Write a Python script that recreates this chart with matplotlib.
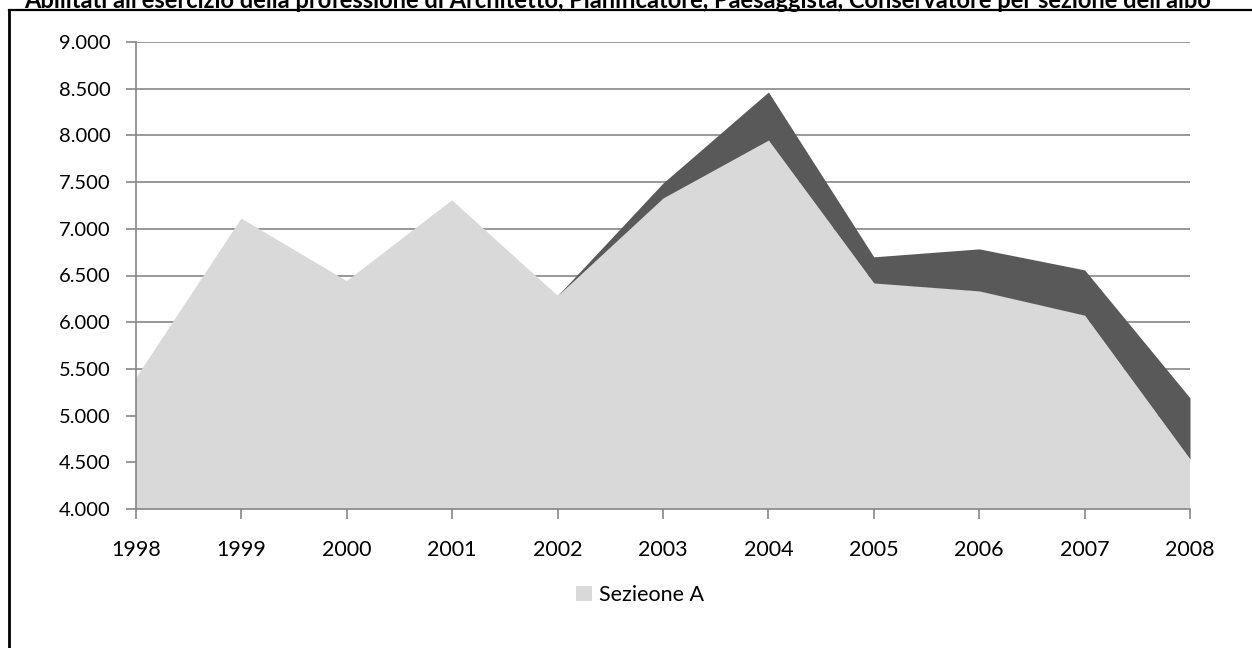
import matplotlib
matplotlib.use("Agg")
import matplotlib.pyplot as plt
from matplotlib.patches import Patch
from matplotlib.ticker import FuncFormatter, MultipleLocator
from matplotlib.lines import Line2D

years = [1998, 1999, 2000, 2001, 2002, 2003, 2004, 2005, 2006, 2007, 2008]
sezione_a = [5400, 7110, 6440, 7305, 6285, 7330, 7950, 6420, 6335, 6075, 4535]
sezione_b = [0, 0, 0, 0, 0, 160, 515, 280, 450, 485, 655]
title = ("Abilitati all'esercizio della professione di Architetto, Pianificatore, "
         "Paesaggista, Conservatore per sezione dell'albo")
legend_label = "Sezieone A"

plt.rcParams['font.family'] = ['Lato', 'DejaVu Sans']

W, H = 1252, 648
fig = plt.figure(figsize=(W / 100, H / 100), dpi=100)
ax = fig.add_axes([136 / W, 1 - 509 / H, (1190 - 136) / W, (509 - 42) / H])

light = '#d9d9d9'
dark = '#595959'
grid = '#868686'

total = [a + b for a, b in zip(sezione_a, sezione_b)]
ax.fill_between(years, 0, sezione_a, color=light, linewidth=0, zorder=2)
ax.fill_between(years, sezione_a, total, color=dark, linewidth=0, zorder=2)

ax.set_xlim(years[0], years[-1])
ax.set_ylim(4000, 9000)
ax.yaxis.set_major_locator(MultipleLocator(500))
ax.set_xticks(years)
ax.set_xticklabels([str(y) for y in years])
ax.yaxis.set_major_formatter(FuncFormatter(lambda v, p: f"{int(v):,}".replace(",", ".")))

ax.grid(axis='y', color=grid, linewidth=1.2, zorder=1)
ax.set_axisbelow(True)
for s in ['top', 'right']:
    ax.spines[s].set_visible(False)
for s in ['left', 'bottom']:
    ax.spines[s].set_color(grid)
    ax.spines[s].set_linewidth(1.2)
    ax.spines[s].set_zorder(3)
ax.tick_params(axis='both', colors=grid, length=7, width=1.2, labelcolor='black')
ax.tick_params(axis='y', pad=11, labelsize=14.5)
ax.tick_params(axis='x', pad=15, labelsize=15.5)

handle = Patch(facecolor=light, edgecolor='none')
fig.legend([handle], [legend_label], loc='center', bbox_to_anchor=(640 / W, 1 - 595 / H),
           frameon=False, fontsize=15.5, handlelength=0.75, handleheight=0.75,
           handletextpad=0.35)

fig.text(618 / W, 1 - 8 / H, title, ha='center', va='baseline', fontsize=17,
         fontweight='bold')

# frame lines (top and left)
fig.add_artist(Line2D([9 / W, 1], [1 - 10 / H, 1 - 10 / H], color='black', linewidth=1.6,
                      transform=fig.transFigure))
fig.add_artist(Line2D([9 / W, 9 / W], [0, 1 - 10 / H], color='black', linewidth=2,
                      transform=fig.transFigure))

fig.savefig('out.png', dpi=100)
